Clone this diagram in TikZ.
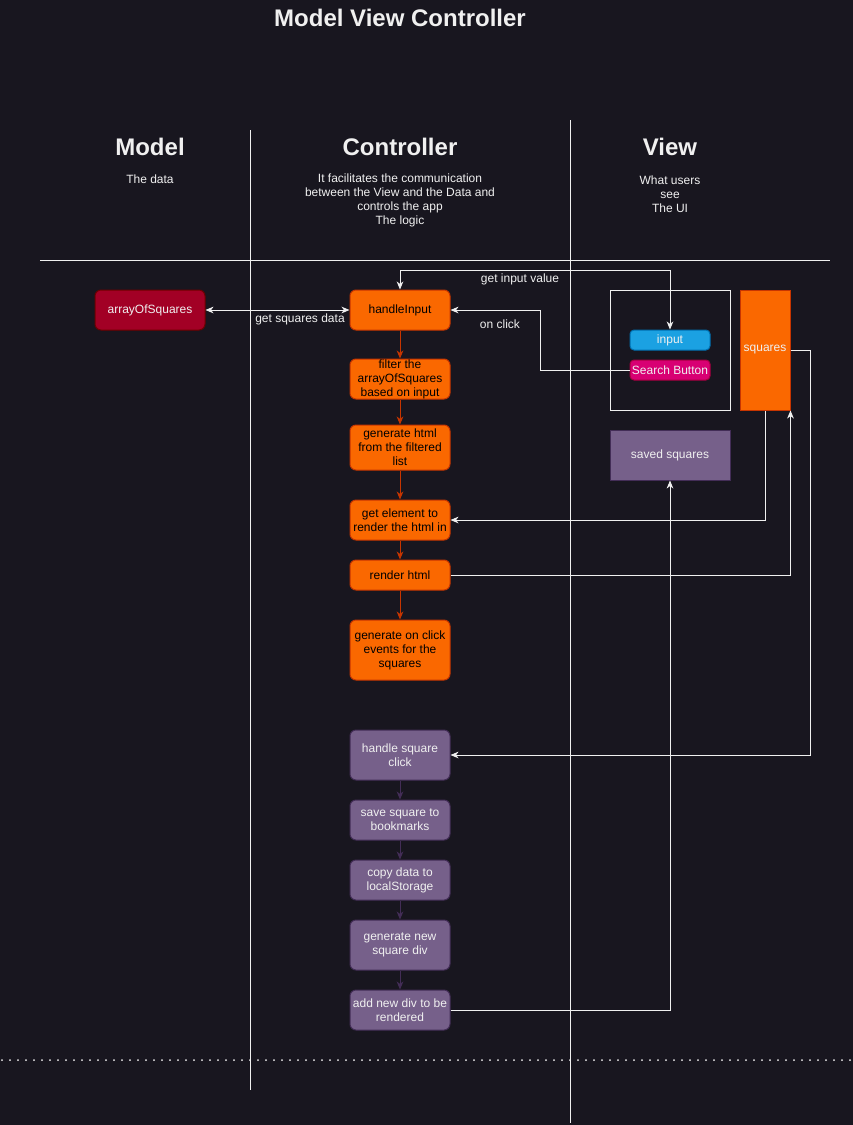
\documentclass[tikz,border=0pt]{standalone}
\usepackage{fontspec}
\setmainfont{Liberation Sans}
\usetikzlibrary{arrows.meta}
\definecolor{bg}{HTML}{18161F}
\definecolor{ln}{HTML}{F0F0F0}
\definecolor{org}{HTML}{FA6800}
\definecolor{orgb}{HTML}{C73500}
\definecolor{redf}{HTML}{A20025}
\definecolor{redb}{HTML}{6F0000}
\definecolor{pur}{HTML}{76608A}
\definecolor{purb}{HTML}{432D57}
\definecolor{blu}{HTML}{1BA1E2}
\definecolor{blub}{HTML}{006EAF}
\definecolor{pnk}{HTML}{D80073}
\definecolor{pnkb}{HTML}{A50040}
\begin{document}
\begin{tikzpicture}[x=0.75pt,y=-0.75pt,
  txt/.style={font=\fontsize{9}{10.5}\selectfont, align=center, inner sep=0pt, text=ln},
  head/.style={font=\fontsize{18}{20}\selectfont\bfseries, inner sep=0pt, text=ln},
  sz/.style 2 args={minimum width=#1*0.75pt, minimum height=#2*0.75pt},
  obox/.style={txt, rounded corners=4.5pt, fill=org, draw=orgb, line width=0.75pt, text=black},
  pbox/.style={txt, rounded corners=4.5pt, fill=pur, draw=purb, line width=0.75pt, text=ln},
  wa/.style={draw=ln, line width=0.75pt},
  tipw/.style={-{Stealth[length=6pt,width=5pt,inset=1.8pt]}},
  tipb/.style={{Stealth[length=6pt,width=5pt,inset=1.8pt]}-{Stealth[length=6pt,width=5pt,inset=1.8pt]}},
  oarr/.style={draw=orgb, line width=0.75pt, -{Stealth[length=6pt,width=5pt,inset=1.8pt]}},
  parr/.style={draw=purb, line width=0.75pt, -{Stealth[length=6pt,width=5pt,inset=1.8pt]}},
  sep/.style={draw=ln, line width=0.75pt}
]
\useasboundingbox[fill=bg] (0,0) rectangle (853,1125);

% separators
\draw[sep] (250,130) -- (250,1090);
\draw[sep] (570,120) -- (570,1123);
\draw[sep] (40,260) -- (830,260);
\draw[draw=ln, line width=1.5pt, line cap=round, dash pattern=on 0pt off 6pt] (2,1060) -- (853,1060);

% headings
\node[head] (title) at (400,18) {Model View Controller};
\node[head] (hmodel) at (150,147) {Model};
\node[head] (hctrl) at (400,147) {Controller};
\node[head] (hview) at (670,147) {View};
\node[txt] (dmodel) at (150,179) {The data};
\node[txt, anchor=north] (dctrl) at (400,173.5) {It facilitates the communication\\between the View and the Data and\\controls the app\\The logic};
\node[txt, anchor=north] (dview) at (670,175.5) {What users\\see\\The UI};

% model
\node[txt, sz={110}{40}, rounded corners=4.5pt, fill=redf, draw=redb, line width=0.75pt] (arr) at (150,310) {arrayOfSquares};

% controller chain
\node[obox, sz={100}{40}] (hi) at (400,310) {handleInput};
\node[obox, sz={100}{40}] (filt) at (400,379) {filter the\\arrayOfSquares\\based on input};
\node[obox, sz={100}{45}] (gen) at (400,447.5) {generate html\\from the filtered\\list};
\node[obox, sz={100}{40}] (gete) at (400,520) {get element to\\render the html in};
\node[obox, sz={100}{30}] (rend) at (400,575) {render html};
\node[obox, sz={100}{60}] (genc) at (400,650) {generate on click\\events for the\\squares};

\node[pbox, sz={100}{50}] (hsc) at (400,755) {handle square\\click};
\node[pbox, sz={100}{40}] (save) at (400,820) {save square to\\bookmarks};
\node[pbox, sz={100}{40}] (copy) at (400,880) {copy data to\\localStorage};
\node[pbox, sz={100}{50}] (gnew) at (400,945) {generate new\\square div};
\node[pbox, sz={100}{40}] (add) at (400,1010) {add new div to be\\rendered};

% view
\node[sz={120}{120}, draw=ln, line width=0.75pt, inner sep=0pt] (frame) at (670,350) {};
\node[txt, sz={80}{20}, rounded corners=3pt, fill=blu, draw=blub, line width=0.75pt] (inp) at (670,340) {input};
\node[txt, sz={80}{20}, rounded corners=3pt, fill=pnk, draw=pnkb, line width=0.75pt] (sb) at (670,370) {Search Button};
\node[txt, sz={50}{120}, fill=org, draw=orgb, line width=0.75pt] (sq) at (765,350) {squares};
\node[txt, sz={120}{50}, fill=pur, draw=purb, line width=0.75pt] (saved) at (670,455) {saved squares};

% chain arrows
\draw[oarr] (hi) -- (filt);
\draw[oarr] (filt) -- (gen);
\draw[oarr] (gen) -- (gete);
\draw[oarr] (gete) -- (rend);
\draw[oarr] (rend) -- (genc);
\draw[parr] (hsc) -- (save);
\draw[parr] (save) -- (copy);
\draw[parr] (copy) -- (gnew);
\draw[parr] (gnew) -- (add);

% connectors
\draw[wa, tipb] (arr) -- (hi);
\node[txt] (lgsd) at (300,319) {get squares data};

\coordinate (giv) at (670,270);
\draw[wa, tipb] (hi.north) |- (giv) -- (inp.north);
\node[txt] (lgiv) at (520,279) {get input value};

\coordinate (ocv) at (540,310);
\draw[wa, tipw] (sb.west) -| (ocv) -- (hi.east);
\node[txt] (loc) at (500,324) {on click};

\draw[wa, tipw] (sq.south) |- (gete.east);
\draw[wa, tipw] (rend.east) -| (sq.south east);
\coordinate (sqr) at (810,755);
\draw[wa, tipw] (sq.east) -| (sqr) -- (hsc.east);
\draw[wa, tipw] (add.east) -| (saved.south);
\end{tikzpicture}
\end{document}
